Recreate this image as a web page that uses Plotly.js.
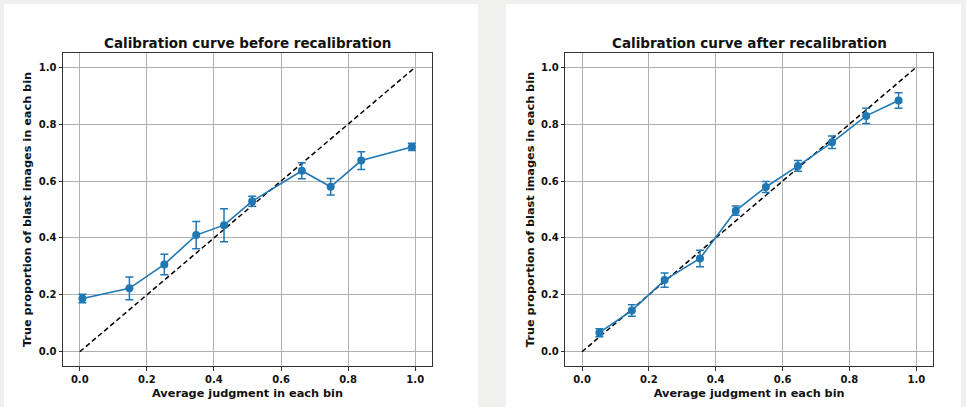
<!DOCTYPE html>
<html><head><meta charset="utf-8">
<script src="https://cdn.plot.ly/plotly-3.0.1.min.js"></script>
<style>html,body{margin:0;padding:0;background:#f0f1ee;}#chart{width:966px;height:407px;}</style>
</head><body><div id="chart"></div>
<script>
// Before recalibration
const beforeX = [0.008, 0.148, 0.252, 0.347, 0.43, 0.514, 0.662, 0.748, 0.839, 0.99];
const beforeY = [0.187, 0.223, 0.307, 0.41, 0.445, 0.529, 0.636, 0.58, 0.672, 0.72];
const beforeErr = [0.015, 0.04, 0.036, 0.048, 0.058, 0.018, 0.028, 0.029, 0.031, 0.013];
// After recalibration
const afterX = [0.052, 0.149, 0.247, 0.353, 0.46, 0.55, 0.646, 0.748, 0.85, 0.947];
const afterY = [0.067, 0.145, 0.252, 0.328, 0.496, 0.579, 0.653, 0.736, 0.829, 0.883];
const afterErr = [0.014, 0.02, 0.025, 0.029, 0.016, 0.019, 0.019, 0.022, 0.027, 0.027];
const diagonal = [0, 1];
const tickVals = [0, 0.2, 0.4, 0.6, 0.8, 1.0];
const titles = ["Calibration curve before recalibration", "Calibration curve after recalibration"];
const xTitle = "Average judgment in each bin";
const yTitle = "True proportion of blast images in each bin";

const blue = '#1f77b4';
function curve(x, y, e, xa, ya) {
  return {x: x, y: y, xaxis: xa, yaxis: ya, type: 'scatter', mode: 'lines+markers',
    line: {color: blue, width: 1.6}, marker: {color: blue, size: 8},
    error_y: {type: 'data', array: e, visible: true, color: blue, thickness: 1.5, width: 4},
    showlegend: false, hoverinfo: 'skip'};
}
function diag(xa, ya) {
  return {x: diagonal, y: diagonal, xaxis: xa, yaxis: ya, type: 'scatter', mode: 'lines',
    line: {color: 'black', width: 1.5, dash: '5px,3px'}, showlegend: false, hoverinfo: 'skip'};
}
const data = [diag('x','y'), curve(beforeX, beforeY, beforeErr, 'x', 'y'),
              diag('x2','y2'), curve(afterX, afterY, afterErr, 'x2', 'y2')];

const F = 'DejaVu Sans';
function ax(domain, title, anchor, standoff) {
  return {domain: domain, range: [-0.05, 1.05], tickvals: tickVals, tickformat: '.1f',
    showgrid: true, gridcolor: '#b0b0b0', gridwidth: 1, zeroline: false,
    showline: true, linecolor: '#333', linewidth: 1, mirror: true,
    ticks: 'outside', ticklen: 3.5, tickcolor: '#333', anchor: anchor,
    tickfont: {family: F, size: 10, weight: 'bold', color: '#111'},
    title: {text: title, font: {family: F, size: 11.3, weight: 'bold', color: '#111'}, standoff: standoff}};
}
const yd = [1 - 366/407, 1 - 53/407];
const layout = {
  width: 966, height: 407, margin: {l: 0, r: 0, t: 0, b: 0},
  paper_bgcolor: '#f0f1ee', plot_bgcolor: 'white',
  xaxis: ax([63/966, 432/966], xTitle, 'y', 5),
  yaxis: ax(yd, yTitle, 'x', 4),
  xaxis2: ax([565.3/966, 933/966], xTitle, 'y2', 5),
  yaxis2: ax(yd, yTitle, 'x2', 4),
  shapes: [
    {type: 'rect', xref: 'paper', yref: 'paper', x0: 4/966, x1: 478/966, y0: 0, y1: 1 - 4/407, fillcolor: 'white', line: {width: 0}, layer: 'below'},
    {type: 'rect', xref: 'paper', yref: 'paper', x0: 506/966, x1: 961/966, y0: 0, y1: 1 - 4/407, fillcolor: 'white', line: {width: 0}, layer: 'below'}
  ],
  annotations: [
    {text: titles[0], xref: 'paper', yref: 'paper', x: 247.5/966, y: 1 - 43/407, xanchor: 'center', yanchor: 'middle', showarrow: false,
     font: {family: F, size: 13.5, weight: 'bold', color: '#111'}},
    {text: titles[1], xref: 'paper', yref: 'paper', x: 749/966, y: 1 - 43/407, xanchor: 'center', yanchor: 'middle', showarrow: false,
     font: {family: F, size: 13.5, weight: 'bold', color: '#111'}}
  ]
};
Plotly.newPlot('chart', data, layout, {staticPlot: true, displayModeBar: false});
</script></body></html>
